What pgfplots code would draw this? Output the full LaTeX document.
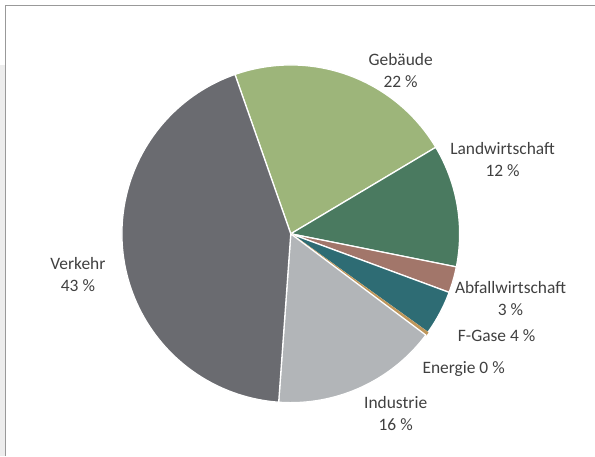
\documentclass[border=0pt]{standalone}
\usepackage{pgfplots}
\pgfplotsset{compat=1.18}
\usepackage{fontspec}
\setmainfont{Carlito}
\definecolor{cGeb}{RGB}{157,181,122}
\definecolor{cLand}{RGB}{74,122,96}
\definecolor{cAbf}{RGB}{162,118,106}
\definecolor{cFG}{RGB}{46,108,116}
\definecolor{cEn}{RGB}{190,150,90}
\definecolor{cInd}{RGB}{178,181,184}
\definecolor{cVer}{RGB}{106,107,112}
\definecolor{txt}{RGB}{64,64,64}
\def\cx{291}\def\cy{222}\def\R{169}
\def\astart{109.3}
\newcommand{\slice}[3]{%
  \pgfmathsetmacro{\aend}{\astart-3.6*#2}%
  \edef\doslice{\noexpand\addplot[fill=#1, draw=#3, line width=1.3pt, line join=round, domain=\aend:\astart, samples=90, variable=\noexpand\t] ({\cx+\R*cos(\noexpand\t)},{\cy+\R*sin(\noexpand\t)}) -- (axis cs:\cx,\cy) -- cycle;}%
  \doslice
  \global\let\astart\aend}
\begin{document}
\begin{tikzpicture}
\begin{axis}[x=1bp, y=1bp, xmin=0, xmax=595, ymin=0, ymax=456,
  hide axis, clip=false, scale only axis]
\path (axis cs:0,0) rectangle (axis cs:595,456);
% frame
\fill[gray!14] (axis cs:0,0) rectangle (axis cs:5,391);
\draw[gray!80, line width=1bp] (axis cs:5.5,0) -- (axis cs:5.5,450) -- (axis cs:595,450);
% slices: Gebaeude, Landwirtschaft, Abfallwirtschaft, F-Gase, Energie, Industrie, Verkehr (in %)
\slice{cGeb}{21.8}{white}
\slice{cLand}{11.7}{white}
\slice{cAbf}{2.5}{white}
\slice{cFG}{4.3}{white}
\slice{cEn}{0.3}{cEn}
\slice{cInd}{15.9}{white}
\slice{cVer}{43.5}{white}
% labels
\begin{scope}[every node/.style={align=center, inner sep=0pt, text=txt, font=\fontsize{17.5}{22}\selectfont}]
\node at (axis cs:401,385) {Gebäude\\22 \%};
\node at (axis cs:503,296.5) {Landwirtschaft\\12 \%};
\node at (axis cs:78,181) {Verkehr\\43 \%};
\node at (axis cs:511,157.5) {Abfallwirtschaft\\3 \%};
\node at (axis cs:497,120.5) {F-Gase 4 \%};
\node at (axis cs:464,87) {Energie 0 \%};
\node at (axis cs:396,42) {Industrie\\16 \%};
\end{scope}
\end{axis}
\end{tikzpicture}
\end{document}
